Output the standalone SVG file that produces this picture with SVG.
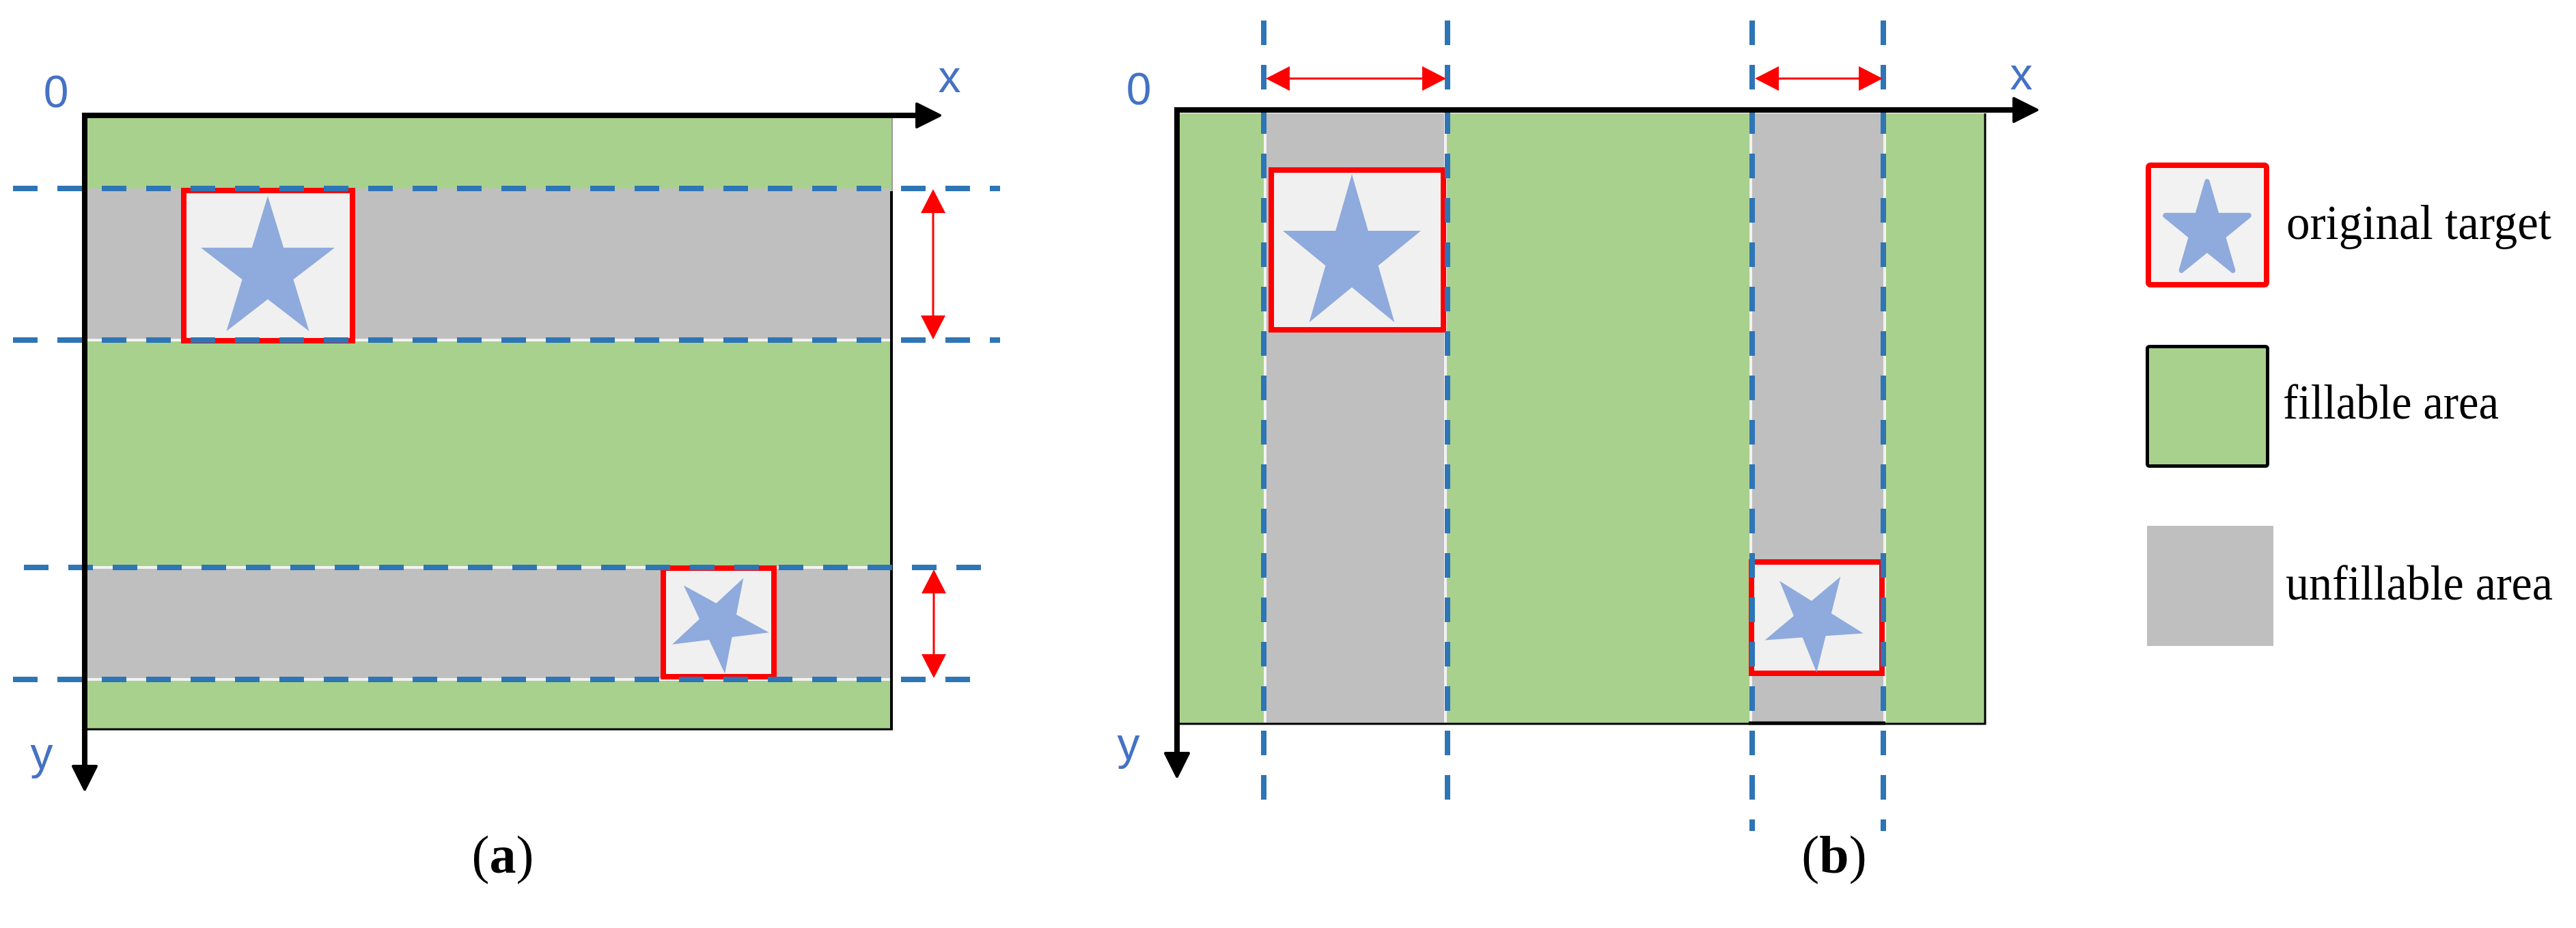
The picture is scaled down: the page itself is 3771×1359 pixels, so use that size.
<svg xmlns="http://www.w3.org/2000/svg" width="3771" height="1359" viewBox="0 0 3771 1359">
<style>
.green{fill:#A9D18E}
.grey{fill:#BFBFBF}
.edgeW{stroke:#F2F2F2;stroke-width:4;fill:none}
.dash{stroke:#2E75B6;stroke-width:8;stroke-dasharray:36 29;fill:none}
.tbox{fill:#F0F0F0;stroke:#FF0000;stroke-width:8}
.star{fill:#8FAADC}
.axis{stroke:#000;stroke-width:8;fill:none;stroke-linejoin:miter}
.thin{stroke:#000;stroke-width:3;fill:none}
.red{stroke:#FF0000;stroke-width:3;fill:none}
.lbl{font-family:"Liberation Sans","Open Sans",sans-serif;font-size:66px;fill:#4472C4;text-anchor:middle}
.cap{font-family:"Liberation Serif","DejaVu Serif",serif;font-size:78px;fill:#000;text-anchor:middle}
.leg{font-family:"Liberation Serif","DejaVu Serif",serif;font-size:72px;fill:#000}
</style>
<defs>
<polygon id="starBox" points="50,0 61.8,38.2 100,38.2 69.1,61.8 80.9,100 50,76.4 19.1,100 30.9,61.8 0,38.2 38.2,38.2"/>
<polygon id="starC" points="0,-100 22.45,-30.9 95.1,-30.9 36.3,11.8 58.8,80.9 0,38.2 -58.8,80.9 -36.3,11.8 -95.1,-30.9 -22.45,-30.9"/>
<path id="ahB" d="M-34,-17 L0,0 L-34,17 Z" fill="#000" stroke="#000" stroke-width="4" stroke-linejoin="round"/>
<path id="ahR" d="M-35,-18 L0,0 L-35,18 Z" fill="#FF0000"/>
</defs>
<rect width="3771" height="1359" fill="#FFFFFF"/>

<g id="panel-a">
  <rect class="green" x="124" y="169" width="1182" height="899"/>
  <g id="a-band1">
    <rect class="grey" x="124" y="276" width="1182" height="222"/>
    <line class="edgeW" x1="128" y1="498" x2="1304" y2="498"/>
  </g>
  <g id="a-band2">
    <rect class="grey" x="124" y="831" width="1182" height="164"/>
    <line class="edgeW" x1="128" y1="831" x2="1304" y2="831"/>
    <line class="edgeW" x1="128" y1="995" x2="1304" y2="995"/>
  </g>
  <line x1="1306" y1="173" x2="1306" y2="280" stroke="#9A9A9A" stroke-width="2"/>
  <line x1="1305" y1="280" x2="1305" y2="1069" stroke="#000" stroke-width="4"/>
  <line class="thin" x1="124" y1="1068" x2="1307" y2="1068"/>
  <g id="a-target1">
    <rect class="tbox" x="269" y="279" width="247" height="220"/>
    <use href="#starBox" class="star" transform="translate(294,287) scale(1.96,1.98)"/>
  </g>
  <g id="a-target2">
    <rect class="tbox" x="971" y="832" width="162" height="159"/>
    <use href="#starC" class="star" transform="translate(1052,912) rotate(29) scale(0.75)"/>
  </g>
  <text class="lbl" x="82" y="157">0</text>
  <text class="lbl" x="1390" y="135">x</text>
  <text class="lbl" x="61" y="1126">y</text>
  <text class="cap" x="736" y="1278">(<tspan font-weight="bold">a</tspan>)</text>
</g>

<g id="panel-b">
  <rect class="green" x="1727" y="166" width="1179" height="894"/>
  <g id="b-col1">
    <rect class="grey" x="1850" y="166" width="269" height="894"/>
    <line class="edgeW" x1="1852" y1="166" x2="1852" y2="1058"/>
    <line class="edgeW" x1="2116" y1="166" x2="2116" y2="1058"/>
  </g>
  <g id="b-col2">
    <rect class="grey" x="2563" y="166" width="196" height="894"/>
    <line class="edgeW" x1="2563" y1="166" x2="2563" y2="1058"/>
    <line class="edgeW" x1="2759" y1="166" x2="2759" y2="1058"/>
  </g>
  <line x1="2906" y1="166" x2="2906" y2="1061" stroke="#000" stroke-width="3"/>
  <line class="thin" x1="1726" y1="1060" x2="2907" y2="1060"/>
  <line x1="2560" y1="1059" x2="2760" y2="1059" stroke="#000" stroke-width="5"/>
  <g id="b-target1">
    <rect class="tbox" x="1861" y="249" width="252" height="234"/>
    <use href="#starBox" class="star" transform="translate(1878,255) scale(2.02,2.17)"/>
  </g>
  <g id="b-target2">
    <rect class="tbox" x="2564" y="823" width="191" height="163"/>
    <use href="#starC" class="star" transform="translate(2654,909) rotate(32) scale(0.76)"/>
  </g>
  <text class="lbl" x="1667" y="153">0</text>
  <text class="lbl" x="2959" y="131">x</text>
  <text class="lbl" x="1652" y="1112">y</text>
  <text class="cap" x="2685" y="1278">(<tspan font-weight="bold">b</tspan>)</text>
</g>

<g id="connectors">
  <g id="dashed-guides">
    <line class="dash" x1="19" y1="276" x2="1464" y2="276"/>
    <line class="dash" x1="19" y1="498" x2="1464" y2="498"/>
    <line class="dash" x1="35" y1="831" x2="1436" y2="831"/>
    <line class="dash" x1="19" y1="995" x2="1420" y2="995"/>
    <line class="dash" x1="1850" y1="30" x2="1850" y2="1176"/>
    <line class="dash" x1="2119" y1="30" x2="2119" y2="1176"/>
    <line class="dash" x1="2565" y1="30" x2="2565" y2="1217"/>
    <line class="dash" x1="2757" y1="30" x2="2757" y2="1217"/>
  </g>
  <g id="axes">
    <path class="axis" d="M124,1126 L124,169 L1346,169"/>
    <use href="#ahB" transform="translate(1376,169)"/>
    <use href="#ahB" transform="translate(124,1156) rotate(90)"/>
    <path class="axis" d="M1723,1106 L1723,161 L2952,161"/>
    <use href="#ahB" transform="translate(2982,161)"/>
    <use href="#ahB" transform="translate(1723,1137) rotate(90)"/>
  </g>
  <g id="extent-arrows">
    <line class="red" x1="1366" y1="305" x2="1366" y2="470"/>
    <use href="#ahR" transform="translate(1366,277) rotate(-90)"/>
    <use href="#ahR" transform="translate(1366,497) rotate(90)"/>
    <line class="red" x1="1367" y1="862" x2="1367" y2="965"/>
    <use href="#ahR" transform="translate(1367,834) rotate(-90)"/>
    <use href="#ahR" transform="translate(1367,993) rotate(90)"/>
    <line class="red" x1="1880" y1="115" x2="2090" y2="115"/>
    <use href="#ahR" transform="translate(1853,115) rotate(180)"/>
    <use href="#ahR" transform="translate(2117,115)"/>
    <line class="red" x1="2597" y1="115" x2="2728" y2="115"/>
    <use href="#ahR" transform="translate(2569,115) rotate(180)"/>
    <use href="#ahR" transform="translate(2756,115)"/>
  </g>
</g>

<g id="legend">
  <g id="legend-target">
    <rect x="3145" y="242" width="173" height="175" rx="3" fill="#F2F2F2" stroke="#FF0000" stroke-width="8"/>
    <use href="#starBox" transform="translate(3170,266) scale(1.22,1.30)" fill="#8FAADC" stroke="#8FAADC" stroke-width="6" stroke-linejoin="round" vector-effect="non-scaling-stroke"/>
    <text class="leg" x="3347" y="350" textLength="388" lengthAdjust="spacingAndGlyphs">original target</text>
  </g>
  <g id="legend-fillable">
    <rect x="3143.5" y="507.5" width="176" height="175" rx="3" fill="#A9D18E" stroke="#000" stroke-width="5"/>
    <text class="leg" x="3342" y="613" textLength="316" lengthAdjust="spacingAndGlyphs">fillable area</text>
  </g>
  <g id="legend-unfillable">
    <rect x="3143" y="770" width="185" height="176" fill="#BFBFBF"/>
    <text class="leg" x="3346" y="878" textLength="391" lengthAdjust="spacingAndGlyphs">unfillable area</text>
  </g>
</g>
</svg>
